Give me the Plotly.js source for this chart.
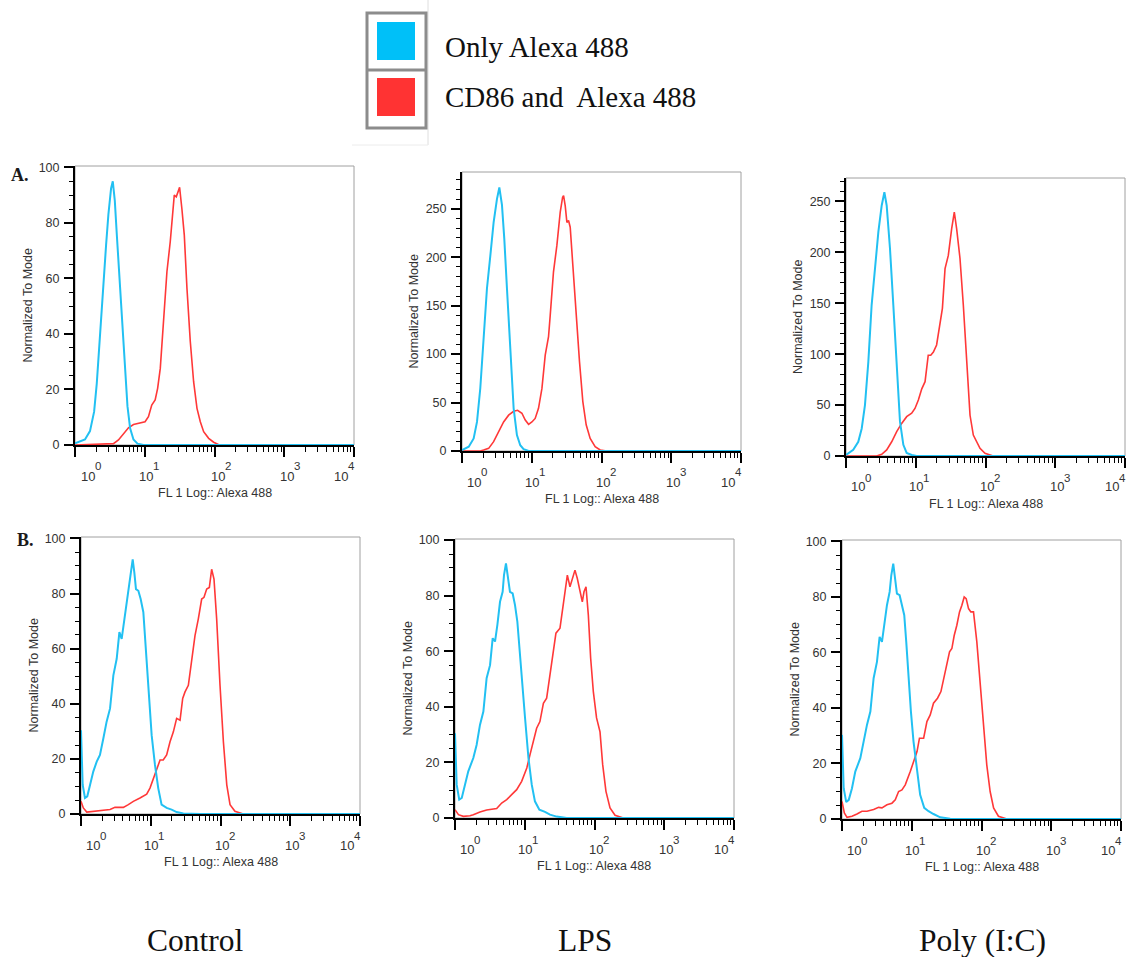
<!DOCTYPE html>
<html>
<head>
<meta charset="utf-8">
<script src="https://cdn.plot.ly/plotly-3.0.1.min.js"></script>
<style>html,body{margin:0;padding:0;background:#fff;}#chart{width:1128px;height:957px;}</style>
</head>
<body>
<div id="chart"></div>
<script>
// ---------- DATA (fluorescence intensity, normalized to mode) ----------
const seriesNames = ["Only Alexa 488", "CD86 and\u00A0 Alexa 488"];
const columnLabels = ["Control", "LPS", "Poly (I:C)"];
const rowLabels = ["A.", "B."];
const xTickVals = [1, 10, 100, 1000, 10000];
const xTickBase = ["10", "10", "10", "10", "10"];
const xTickExp = ["0", "1", "2", "3", "4"];
const xMinorVals = [2,3,4,5,6,7,8,9,20,30,40,50,60,70,80,90,200,300,400,500,600,700,800,900,2000,3000,4000,5000,6000,7000,8000,9000];
const yTicks100 = [0, 20, 40, 60, 80, 100];
const yTicks250 = [0, 50, 100, 150, 200, 250];

// Row A, Control
const blueA1x = [1, 1.39, 1.64, 1.88, 2.05, 2.21, 2.36, 2.55, 2.79, 3.01, 3.29, 3.48, 3.72, 3.97, 4.24, 4.53, 4.84, 5.23, 5.65, 6.17, 6.89, 7.87, 9.60, 10000];
const blueA1y = [0.6, 2, 5, 12, 22, 35, 46, 58, 72, 83, 92.4, 95, 88, 76, 64, 50, 38, 25, 14, 6, 2, 0.5, 0, 0];
const redA1x = [1, 3.18, 3.56, 4.20, 4.95, 5.84, 6.89, 8.59, 10.1, 11.3, 12.6, 14.1, 15.3, 16.7, 18.6, 20.8, 23.2, 25.3, 26.5, 28.3, 29.9, 31.6, 34.1, 36.9, 40.3, 45.0, 50.2, 56.1, 62.6, 69.9, 82.5, 97.3, 115, 151, 10000];
const redA1y = [0, 0.3, 0.5, 1.8, 4.2, 6.2, 7.4, 8, 8.4, 10.2, 14.4, 16.2, 20.4, 27.6, 44.4, 62.4, 73.2, 86.4, 90, 89.4, 91.2, 92.8, 85, 75.6, 56.4, 37.2, 22.8, 13.2, 8.4, 4.8, 2.4, 1, 0.1, 0, 0];
// Row A, LPS
const blueA2x = [1, 1.25, 1.47, 1.64, 1.83, 2.04, 2.28, 2.55, 2.84, 3.17, 3.43, 3.74, 4.04, 4.41, 4.92, 5.50, 6.13, 6.84, 7.64, 9.01, 10000];
const blueA2y = [1, 4.5, 13, 30, 65, 116, 168, 202, 236, 260, 272, 254, 219, 168, 99, 44, 16.5, 6, 2, 0, 0];
const redA2x = [1, 1.83, 2.04, 2.41, 2.84, 3.35, 3.95, 4.66, 5.50, 6.27, 7.23, 8.07, 9.01, 10.05, 11.2, 12.5, 14.0, 15.6, 16.5, 17.4, 18.4, 20.5, 22.9, 25.6, 27.7, 28.6, 30.2, 31.9, 33.7, 35.6, 38.8, 43.4, 48.4, 54.0, 60.3, 68.8, 81.1, 95.7, 119, 10000];
const redA2y = [0, 0, 1, 2.7, 9.6, 20, 30, 37, 41, 42, 39, 32, 27.5, 30, 33.6, 44, 64.6, 99, 109, 118, 140, 185, 212, 246.6, 262, 263.7, 253, 236, 238, 231, 192, 140, 92, 51, 27, 13, 4.5, 1, 0, 0];
// Row A, Poly (I:C)
const blueA3x = [1, 1.27, 1.50, 1.68, 1.87, 2.09, 2.33, 2.61, 2.91, 3.25, 3.55, 3.83, 4.27, 4.77, 5.33, 5.94, 6.64, 7.41, 8.74, 10.3, 10000];
const blueA3y = [1, 6, 14, 27, 50, 92.5, 148, 187, 220, 246, 259, 246, 204, 148, 83, 34, 11, 3, 1, 0, 0];
const redA3x = [1, 2.75, 3.25, 3.83, 4.52, 5.33, 6.28, 7.41, 8.74, 9.75, 10.9, 12.2, 13.6, 15.1, 16.4, 17.9, 19.9, 22.3, 24.1, 26.3, 29.3, 32.7, 35.7, 38.6, 43.1, 48.1, 53.7, 60.0, 66.9, 74.7, 83.4, 98.4, 129, 10000];
const redA3y = [0, 0, 1.6, 6, 14, 24, 32, 38.6, 42, 46.7, 55, 66, 73, 99, 99, 102, 109, 131.7, 145, 184, 197, 223, 239.5, 223, 194, 148, 92.5, 40, 20.6, 14, 7.5, 2.6, 0, 0];
// Row B, Control
const blueB1x = [1, 1.057, 1.14, 1.23, 1.35, 1.50, 1.68, 1.87, 2.09, 2.33, 2.61, 2.91, 3.25, 3.55, 3.83, 4.14, 4.52, 4.77, 5.15, 5.51, 5.82, 6.14, 6.64, 7.17, 7.83, 8.27, 8.74, 9.55, 10.3, 11.5, 12.8, 14.3, 16.9, 19.9, 23.5, 29.3, 50.8, 10000];
const blueB1y = [30.4, 10.6, 5.8, 6.4, 10.6, 15.4, 19, 21.4, 27.4, 33.5, 38.3, 50.3, 56.3, 66, 63.5, 69.6, 76.8, 80.4, 87.6, 92.4, 87.6, 81.6, 81, 78, 73.2, 64.7, 52.7, 40.7, 28.6, 17.8, 9.4, 3.4, 2.2, 1.6, 0.7, 0.2, 0, 0];
const redB1x = [1, 1.08, 1.21, 1.50, 1.87, 2.61, 3.07, 4.05, 4.77, 5.63, 7.01, 8.74, 9.75, 10.9, 12.2, 13.6, 15.1, 16.9, 18.9, 21.1, 23.5, 26.3, 28.7, 31.0, 34.6, 38.6, 43.1, 48.1, 53.7, 58.0, 63.4, 69.2, 74.7, 80.7, 88.1, 98.4, 110, 123, 137, 161, 212, 10000];
const redB1y = [4.6, 2.2, 0.7, 1, 1.3, 1.6, 2.4, 2.4, 3.4, 4.6, 5.8, 7.2, 9.4, 13, 16.6, 19.6, 19.6, 21.4, 26.2, 29.8, 34.7, 34, 41.9, 44.3, 46.7, 56.3, 64.7, 70.8, 78, 78.6, 81.6, 82.2, 88.8, 85.2, 70.8, 46.7, 26.2, 10.6, 3.4, 1, 0, 0];
// Row B, LPS
const blueB2x = [1, 1.057, 1.15, 1.25, 1.39, 1.55, 1.83, 2.04, 2.28, 2.55, 2.84, 3.18, 3.47, 3.75, 4.05, 4.42, 4.82, 5.04, 5.38, 5.75, 6.14, 6.71, 7.25, 7.83, 8.55, 9.34, 10.1, 11.3, 12.6, 14.0, 16.2, 19.5, 23.0, 28.7, 39.9, 10000];
const blueB2y = [30.5, 12, 6.6, 7.2, 12, 16.8, 21.6, 26.3, 33.5, 38.3, 50.3, 55, 64.7, 63.5, 69.5, 77.8, 81.4, 87.4, 91.6, 86.2, 81.4, 80.8, 76.6, 70.7, 57.5, 45.5, 36, 21.6, 12, 6, 3, 2.2, 1.2, 0.5, 0, 0];
const redB2x = [1, 1.12, 1.32, 1.64, 1.83, 2.28, 2.84, 3.96, 4.67, 5.51, 6.49, 7.66, 9.03, 10.7, 11.9, 13.3, 14.8, 16.5, 18.5, 20.6, 23.0, 25.1, 28.0, 32.0, 35.0, 37.8, 40.8, 44.5, 48.6, 52.5, 56.7, 61.9, 66.9, 70.7, 75.5, 81.6, 88.1, 96.2, 107, 120, 131, 146, 167, 197, 259, 10000];
const redB2y = [3, 1.2, 0.6, 0.8, 1.2, 2.2, 2.9, 3.4, 5.4, 6.6, 8.4, 10.2, 13.2, 18, 22.8, 27.5, 32.3, 34.7, 41.3, 43.1, 51.5, 58.7, 66.5, 68.3, 75.4, 82.6, 87.4, 83.2, 86.2, 89.2, 86.2, 81.4, 77.8, 81.4, 83.2, 73, 57.5, 45.5, 36, 31, 19.2, 9.6, 3.6, 1, 0, 0];
// Row B, Poly (I:C)
const blueB3x = [1, 1.057, 1.15, 1.25, 1.39, 1.55, 1.83, 2.04, 2.28, 2.55, 2.84, 3.17, 3.46, 3.74, 4.04, 4.41, 4.82, 5.09, 5.43, 5.80, 6.13, 6.70, 7.23, 7.81, 8.34, 9.01, 9.73, 10.6, 11.9, 13.2, 15.1, 17.4, 20.5, 25.6, 35.6, 49.5, 10000];
const blueB3y = [30.3, 11.1, 6.1, 6.9, 11.1, 17.1, 21.9, 27.9, 33.9, 38.7, 50.7, 56.6, 65.6, 63.8, 69.8, 77, 81.8, 87.8, 92, 86.6, 81.2, 80.6, 77, 73.4, 63.8, 50.7, 38.7, 27.9, 17.1, 8.7, 4, 2.8, 1.8, 0.6, 0.1, 0, 0];
const redB3x = [1, 1.08, 1.18, 1.39, 1.64, 1.93, 2.28, 2.84, 3.35, 3.74, 4.41, 5.20, 5.80, 6.48, 7.23, 8.07, 9.52, 10.6, 11.9, 12.9, 14.8, 16.5, 18.4, 20.5, 23.4, 26.2, 28.6, 31.9, 34.8, 37.6, 40.6, 44.3, 48.4, 52.3, 56.5, 60.3, 65.2, 70.3, 76.8, 85.7, 95.7, 107, 119, 133, 149, 175, 231, 10000];
const redB3y = [6.3, 2.2, 0.6, 1, 1.8, 2.8, 2.8, 3.4, 4.2, 4, 5.1, 5.7, 6.9, 9.9, 10.5, 12.3, 17.1, 20.7, 24.3, 29.1, 29.1, 35.1, 37.5, 41.7, 43.5, 45.9, 50.7, 55.4, 60.2, 61.4, 66.1, 69.8, 74.6, 77, 80, 79.4, 75.8, 74.6, 74.6, 63.8, 48.3, 33.9, 19.5, 9.9, 4, 1, 0, 0];

// ---------- LAYOUT ----------
const W = 1128, H = 957;
const BLUE = "#22c0f2", RED = "#ff3838";
const PX = v => v / W, PY = v => 1 - v / H;
const sans = "Liberation Sans, Arial, sans-serif";
const serif = "Liberation Serif, Times New Roman, serif";

const panels = [
  {box: [75, 166, 354, 445], ymax: 100.5, yt: yTicks100, ymin: 5, shift: [15, 4, 6, 5, -11], b: [blueA1x, blueA1y], r: [redA1x, redA1y]},
  {box: [462, 172, 741, 451], ymax: 288, yt: yTicks250, ymin: 10, shift: [14, 3, 4, 4, -11], b: [blueA2x, blueA2y], r: [redA2x, redA2y]},
  {box: [846, 178, 1125, 456], ymax: 273, yt: yTicks250, ymin: 10, shift: [14, 3, 4, 4, -11], b: [blueA3x, blueA3y], r: [redA3x, redA3y]},
  {box: [81, 537, 360, 814], ymax: 100.5, yt: yTicks100, ymin: 5, shift: [14, 3, 4, 4, -11], b: [blueB1x, blueB1y], r: [redB1x, redB1y]},
  {box: [455, 539, 734, 818], ymax: 100.4, yt: yTicks100, ymin: 5, shift: [14, 3, 4, 4, -11], b: [blueB2x, blueB2y], r: [redB2x, redB2y]},
  {box: [842, 540, 1121, 819], ymax: 100.5, yt: yTicks100, ymin: 5, shift: [14, 3, 4, 4, -11], b: [blueB3x, blueB3y], r: [redB3x, redB3y]}
];

const data = [];
const layout = {
  width: W, height: H, margin: {l: 0, r: 0, t: 0, b: 0},
  paper_bgcolor: "#fff", plot_bgcolor: "#fff", showlegend: false,
  font: {family: sans, color: "#333"},
  annotations: [], shapes: []
};

panels.forEach((p, i) => {
  const n = i + 1, xa = "x" + n, ya = "y" + n;
  const [l, t, r, b] = p.box;
  data.push({x: p.r[0], y: p.r[1], xaxis: xa, yaxis: ya, type: "scatter", mode: "lines",
             name: seriesNames[1], line: {color: RED, width: 1.6}, hoverinfo: "skip"});
  data.push({x: p.b[0], y: p.b[1], xaxis: xa, yaxis: ya, type: "scatter", mode: "lines",
             name: seriesNames[0], line: {color: BLUE, width: 2}, hoverinfo: "skip"});
  layout["xaxis" + (n === 1 ? "" : n)] = {
    type: "log", range: [0, 4], domain: [PX(l), PX(r)], anchor: ya,
    showline: true, linecolor: "#000", linewidth: 2, layer: "below traces",
    ticks: "outside", ticklen: 10, tickwidth: 2, tickcolor: "#000",
    tickmode: "array", tickvals: xTickVals, showticklabels: false,
    showgrid: false, zeroline: false, fixedrange: true,
    minor: {tickmode: "array", tickvals: xMinorVals, ticks: "outside", ticklen: 5, tickwidth: 1, tickcolor: "#000", showgrid: false}
  };
  layout["yaxis" + (n === 1 ? "" : n)] = {
    range: [0, p.ymax], domain: [PY(b), PY(t)], anchor: xa,
    showline: true, linecolor: "#000", linewidth: 2, layer: "below traces",
    ticks: "outside", ticklen: 9, tickwidth: 2, tickcolor: "#000",
    tickmode: "array", tickvals: p.yt, ticktext: p.yt.map(String),
    tickfont: {family: sans, size: 12.5, color: "#333"}, ticklabelstandoff: 2,
    showgrid: false, zeroline: false, fixedrange: true,
    minor: {tickmode: "linear", tick0: 0, dtick: p.ymin, ticks: "outside", ticklen: 4.5, tickwidth: 1, tickcolor: "#000", showgrid: false}
  };
  // gray frame (top / right)
  layout.shapes.push({type: "rect", xref: xa + " domain", yref: ya + " domain", x0: 0, x1: 1, y0: 0, y1: 1,
                      line: {color: "#a0a0a0", width: 1}, layer: "below"});
  // x tick labels: "10" with a raised exponent, offset like the original
  xTickVals.forEach((v, k) => {
    layout.annotations.push({xref: xa, yref: "paper", x: Math.log10(v), y: PY(b + 31), yanchor: "middle", xanchor: "right",
      xshift: p.shift[k] + 4.5, borderpad: 0, borderwidth: 0, text: xTickBase[k], showarrow: false, font: {family: sans, size: 13, color: "#333"}});
    layout.annotations.push({xref: xa, yref: "paper", x: Math.log10(v), y: PY(b + 21.5), yanchor: "middle", xanchor: "left",
      xshift: p.shift[k] + 4.5, borderpad: 0, borderwidth: 0, text: xTickExp[k], showarrow: false, font: {family: sans, size: 11.5, color: "#333"}});
  });
  // axis titles
  layout.annotations.push({xref: "paper", yref: "paper", x: PX((l + r) / 2), y: PY(b + 47.5), xanchor: "center", yanchor: "middle",
    text: "FL 1 Log:: Alexa 488", showarrow: false, font: {family: sans, size: 12.5, color: "#333"}});
  layout.annotations.push({xref: "paper", yref: "paper", x: PX(l - 48), y: PY((t + b) / 2), xanchor: "center", yanchor: "middle",
    textangle: -90, text: "Normalized To Mode", showarrow: false, font: {family: sans, size: 12.5, color: "#333"}});
});

// row labels
layout.annotations.push({xref: "paper", yref: "paper", x: PX(20), y: PY(175), xanchor: "center", yanchor: "middle",
  text: "<b>" + rowLabels[0] + "</b>", showarrow: false, font: {family: serif, size: 18, color: "#1a1a1a"}});
layout.annotations.push({xref: "paper", yref: "paper", x: PX(25), y: PY(540), xanchor: "center", yanchor: "middle",
  text: "<b>" + rowLabels[1] + "</b>", showarrow: false, font: {family: serif, size: 18, color: "#1a1a1a"}});

// column labels
[195, 584.5, 982].forEach((cx, k) => {
  layout.annotations.push({xref: "paper", yref: "paper", x: PX(cx), y: PY(940), xanchor: "center", yanchor: "middle",
    text: columnLabels[k], showarrow: false, font: {family: serif, size: 31.5, color: "#111"}});
});

// legend box
layout.shapes.push({type: "line", xref: "paper", yref: "paper", x0: PX(428), x1: PX(428), y0: PY(0), y1: PY(145), line: {color: "#dedede", width: 1}});
layout.shapes.push({type: "line", xref: "paper", yref: "paper", x0: PX(352), x1: PX(428), y0: PY(145), y1: PY(145), line: {color: "#ececec", width: 1}});
layout.shapes.push({type: "rect", xref: "paper", yref: "paper", x0: PX(367), x1: PX(426), y0: PY(128), y1: PY(13), line: {color: "#8c8c8c", width: 3}});
layout.shapes.push({type: "line", xref: "paper", yref: "paper", x0: PX(367), x1: PX(426), y0: PY(70), y1: PY(70), line: {color: "#8c8c8c", width: 3}});
layout.shapes.push({type: "rect", xref: "paper", yref: "paper", x0: PX(377), x1: PX(415), y0: PY(60), y1: PY(22), fillcolor: "#00c0f8", line: {width: 0}});
layout.shapes.push({type: "rect", xref: "paper", yref: "paper", x0: PX(377), x1: PX(415), y0: PY(116), y1: PY(78), fillcolor: "#ff3333", line: {width: 0}});
layout.annotations.push({xref: "paper", yref: "paper", x: PX(443), y: PY(47), xanchor: "left", yanchor: "middle",
  text: seriesNames[0], showarrow: false, font: {family: serif, size: 29, color: "#111"}});
layout.annotations.push({xref: "paper", yref: "paper", x: PX(443), y: PY(97), xanchor: "left", yanchor: "middle",
  text: seriesNames[1], showarrow: false, font: {family: serif, size: 29, color: "#111"}});

Plotly.newPlot("chart", data, layout, {displayModeBar: false});
</script>
</body>
</html>
